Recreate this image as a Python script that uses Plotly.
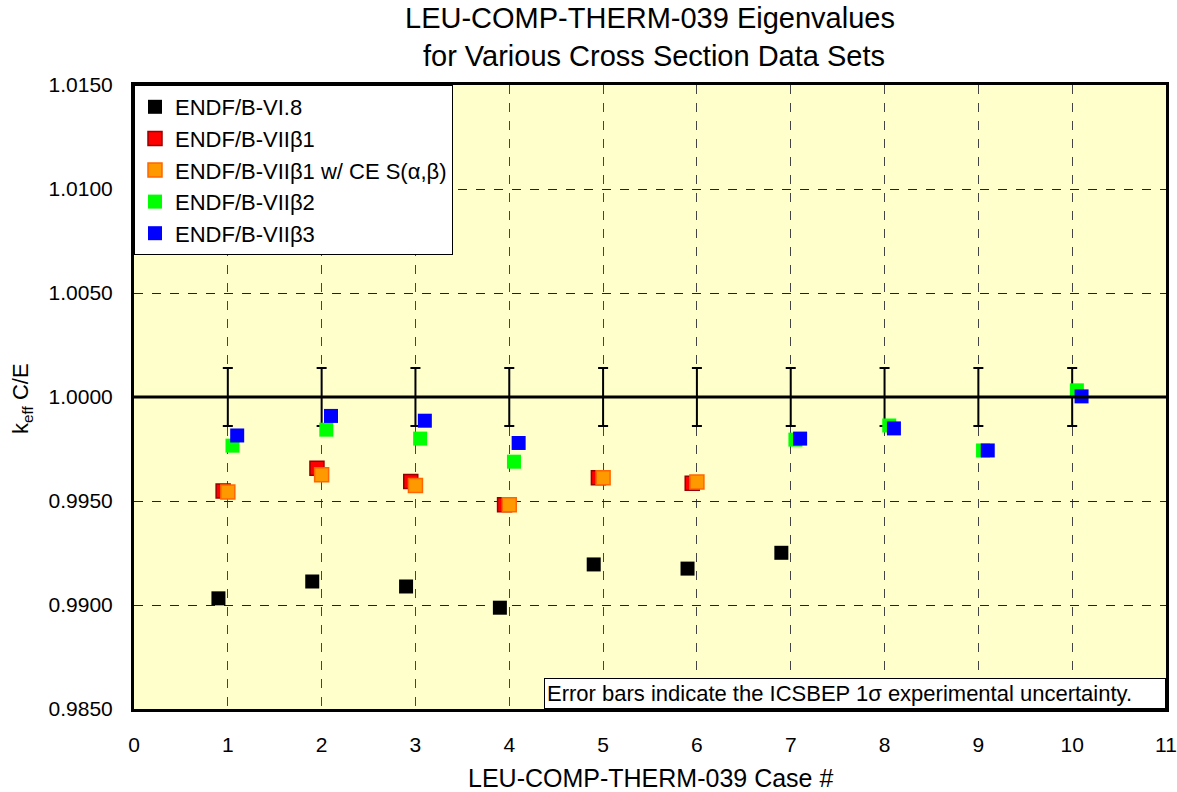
import plotly.graph_objects as go

cases = [1, 2, 3, 4, 5, 6, 7, 8, 9, 10]
exp_value = [1.0] * 10
exp_unc = [0.0014] * 10

vi8 = [0.99032, 0.99113, 0.99089, 0.98987, 0.99195, 0.99175, 0.99251, None, None, None]
b1 = [0.99548, 0.99657, 0.99594, 0.99482, 0.99612, 0.99585, None, None, None, None]
b1_ce = [0.99543, 0.99626, 0.99574, 0.99482, 0.99612, 0.99591, None, None, None, None]
b2 = [0.99766, 0.99843, 0.99800, 0.99689, None, None, 0.99795, 0.99863, 0.99743, 1.00032]
b3 = [0.99815, 0.99909, 0.99886, 0.99779, None, None, 0.99800, 0.99849, 0.99743, 1.00003]

series_names = ["ENDF/B-VI.8", "ENDF/B-VIIβ1", "ENDF/B-VIIβ1 w/ CE S(α,β)",
                "ENDF/B-VIIβ2", "ENDF/B-VIIβ3"]
series_values = [vi8, b1, b1_ce, b2, b3]

x_ticks = list(range(0, 12))
y_ticks = [0.985, 0.990, 0.995, 1.000, 1.005, 1.010, 1.015]

title_text = "LEU-COMP-THERM-039 Eigenvalues<br> for Various Cross Section Data Sets"
x_title = "LEU-COMP-THERM-039 Case #"
y_title = "k<sub>eff</sub> C/E"
note_text = "Error bars indicate the ICSBEP 1σ experimental uncertainty."

# styling
offsets = [-0.1, -0.05, 0.0, 0.05, 0.1]
fills = ["#000000", "#FF0000", "#FF9900", "#00FF00", "#0000FF"]
borders = ["#000000", "#990000", "#FF6600", "#00FF00", "#0000FF"]
border_w = [0, 1.5, 1.5, 0, 0]
FONT = "Liberation Sans, Arial, sans-serif"

fig = go.Figure()

# error bars on the experimental value
fig.add_trace(go.Scatter(
    x=cases, y=exp_value, mode="markers",
    marker=dict(size=1, color="rgba(0,0,0,0)"),
    error_y=dict(type="data", array=exp_unc, visible=True, color="black",
                 thickness=2, width=5),
    showlegend=False, hoverinfo="skip"))

for i, (name, vals) in enumerate(zip(series_names, series_values)):
    xs = [c + offsets[i] for c, v in zip(cases, vals) if v is not None]
    ys = [v for v in vals if v is not None]
    fig.add_trace(go.Scatter(
        x=xs, y=ys, mode="markers", name=name, legendgroup=name,
        marker=dict(symbol="square", size=14, color=fills[i],
                    line=dict(color=borders[i], width=border_w[i]))))

fig.add_shape(type="line", xref="paper", x0=0, x1=1, yref="y",
              y0=exp_value[0], y1=exp_value[0],
              line=dict(color="black", width=3), layer="above")

# note box
fig.add_annotation(
    xref="paper", yref="paper", x=1, y=0, xanchor="right", yanchor="bottom",
    text=note_text, showarrow=False, bgcolor="white", bordercolor="black",
    borderwidth=1, borderpad=2, width=616, align="left",
    font=dict(family=FONT, size=22, color="black"))

# chart title
fig.add_annotation(
    xref="paper", yref="paper", x=0.5, y=1.0176, xanchor="center", yanchor="bottom",
    text=title_text, showarrow=False, align="center",
    font=dict(family=FONT, size=29, color="black"))

# axis titles
fig.add_annotation(
    xref="paper", yref="paper", x=0.5, y=-0.1106, xanchor="center", yanchor="middle",
    text=x_title, showarrow=False,
    font=dict(family=FONT, size=25, color="black"))
fig.add_annotation(
    xref="paper", yref="paper", x=-0.1085, y=0.4968, xanchor="center", yanchor="middle",
    text=y_title, showarrow=False, textangle=-90,
    font=dict(family=FONT, size=22, color="black"))

fig.update_layout(
    width=1177, height=792,
    margin=dict(l=134, r=11, t=85, b=83),
    paper_bgcolor="white", plot_bgcolor="#FFFFCC",
    font=dict(family=FONT, size=20, color="black"),
    legend=dict(x=0, y=1, xanchor="left", yanchor="top", bgcolor="white",
                bordercolor="black", borderwidth=1, tracegroupgap=0,
                font=dict(family=FONT, size=22, color="black")),
    xaxis=dict(range=[0, 11], tickvals=x_ticks, showgrid=True,
               gridcolor="#444444", griddash="dash", gridwidth=1,
               showline=True, linecolor="black", linewidth=3, mirror=True,
               zeroline=False, ticks="", ticklabelstandoff=15, automargin=False,
               tickfont=dict(family=FONT, size=21, color="black")),
    yaxis=dict(range=[0.985, 1.015], tickvals=y_ticks, tickformat=".4f",
               showgrid=True, gridcolor="#222222", griddash="dash", gridwidth=1,
               showline=True, linecolor="black", linewidth=3, mirror=True,
               zeroline=False, ticks="", ticklabelstandoff=14, automargin=False,
               tickfont=dict(family=FONT, size=21, color="black")),
)

fig.write_html("out.html")
